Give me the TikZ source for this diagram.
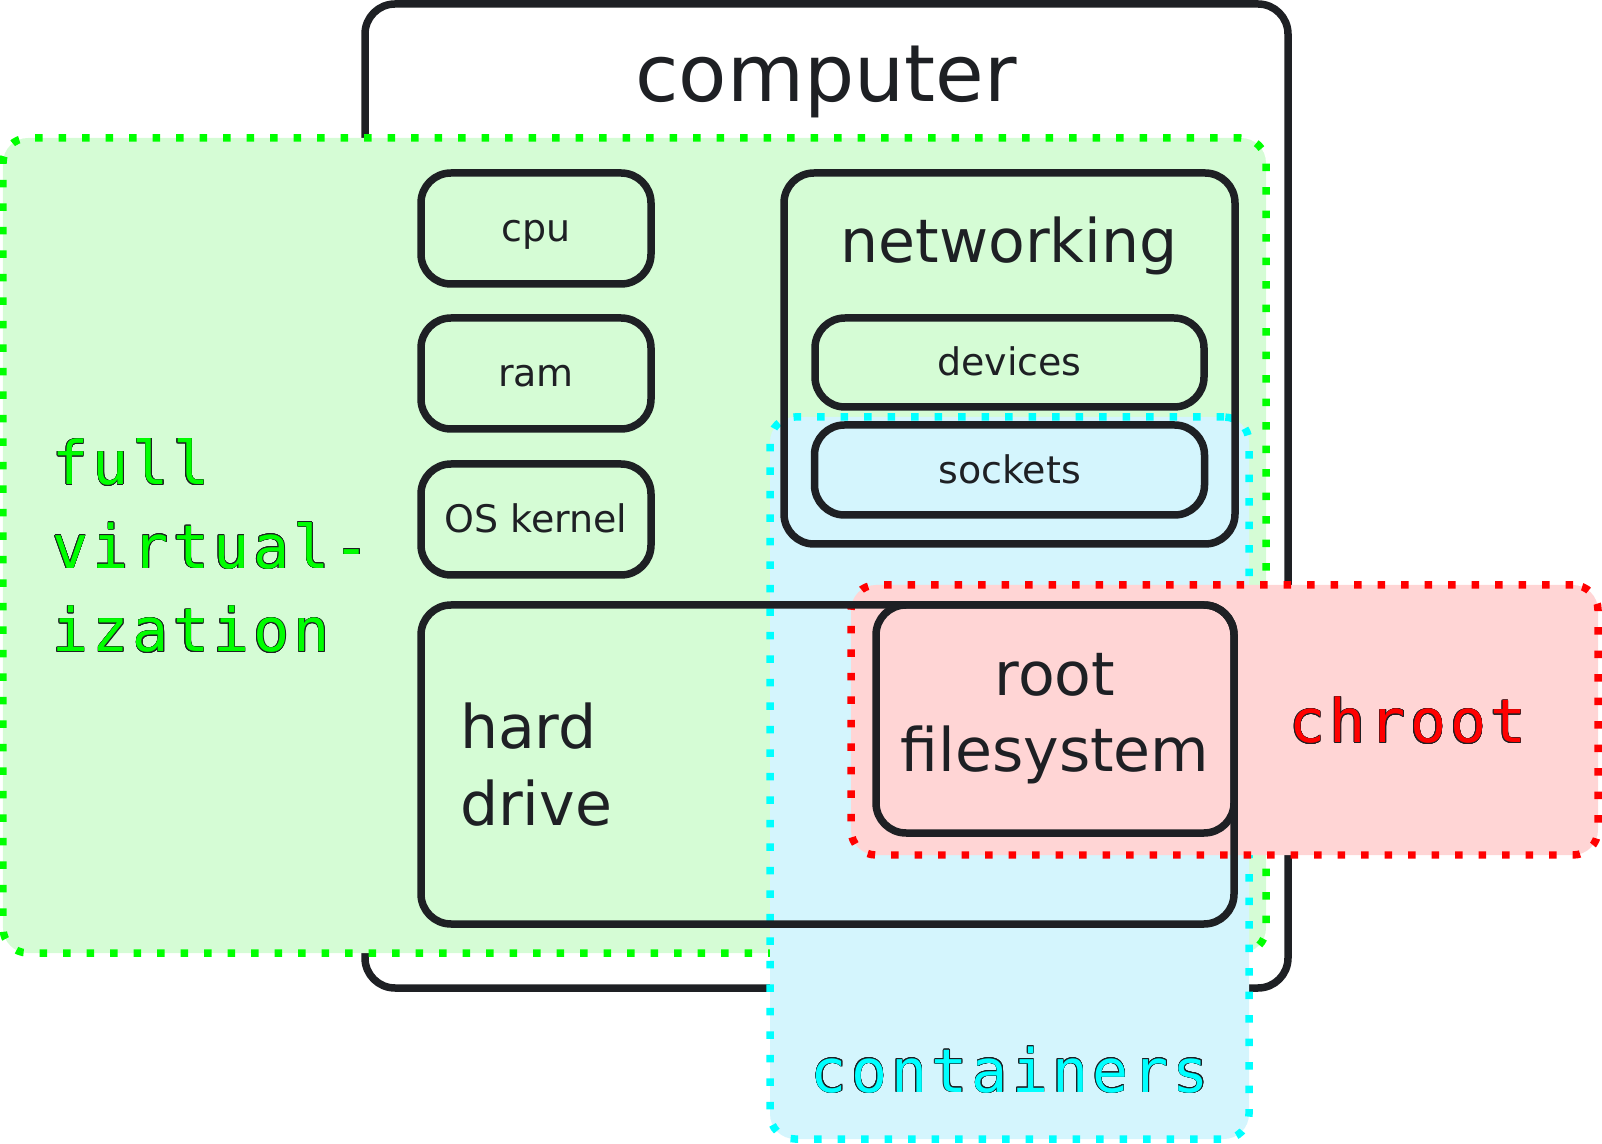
\documentclass[tikz,border=0pt]{standalone}
\usepackage{fontspec}
\setmainfont{DejaVu Sans}
\newfontfamily\monofam[LetterSpace=6.7]{DejaVu Sans Mono}
\usepackage{contour}
\contourlength{0.16pt}
\usetikzlibrary{positioning}
\definecolor{ink}{RGB}{30,32,36}
\definecolor{fvfill}{RGB}{213,252,213}
\definecolor{ctfill}{RGB}{212,245,253}
\definecolor{chfill}{RGB}{255,213,213}
\definecolor{fvline}{RGB}{0,255,0}
\definecolor{ctline}{RGB}{0,255,255}
\definecolor{chline}{RGB}{255,0,0}
\begin{document}
\begin{tikzpicture}[y=-1cm,line join=round,
	box/.style={draw=ink,line width=0.075cm,rounded corners=0.3cm,inner sep=0pt,outer sep=0pt},
	zone/.style={line width=0.075cm,dash pattern=on 0.075cm off 0.16cm,rounded corners=0.25cm,inner sep=0pt,outer sep=0pt},
	small/.style={font=\fontsize{10.8}{13}\selectfont,text=ink,text height=0.95em,text depth=0.2em},
	mid/.style={font=\fontsize{17.1}{21.7}\selectfont,text=ink},
	tag/.style={font=\monofam\fontsize{17.1}{23.8}\selectfont}]
	\useasboundingbox (0,0) rectangle (16.02,11.44);
	% the machine
	\node[box,minimum width=9.23cm,minimum height=9.84cm] (computer) at (8.265,4.96) {};
	\node[font=\fontsize{22.5}{27}\selectfont,text=ink,anchor=base] (comptitle) at (8.26,1.02) {computer};
	% isolation levels
	\node[zone,draw=fvline,fill=fvfill,minimum width=12.63cm,minimum height=8.15cm] (fullvirt) at (6.345,5.455) {};
	\node[zone,draw=ctline,fill=ctfill,minimum width=4.79cm,minimum height=7.22cm] (containers) at (10.095,7.78) {};
	\node[zone,draw=chline,fill=chfill,minimum width=7.47cm,minimum height=2.70cm] (chroot) at (12.245,7.20) {};
	% parts
	\node[box,small,minimum width=2.30cm,minimum height=1.11cm] (cpu) at (5.36,2.285) {cpu};
	\node[box,small,minimum width=2.30cm,minimum height=1.11cm,below=0.34cm of cpu] (ram) {ram};
	\node[box,small,minimum width=2.30cm,minimum height=1.11cm,below=0.35cm of ram] (kernel) {OS kernel};
	\node[box,minimum width=4.51cm,minimum height=3.71cm] (net) at (10.095,3.585) {};
	\node[mid,anchor=base] (nettitle) at (10.09,2.63) {networking};
	\node[box,small,minimum width=3.89cm,minimum height=0.89cm] (devices) at (10.095,3.625) {devices};
	\node[box,small,minimum width=3.90cm,minimum height=0.90cm,below=0.18cm of devices] (sockets) {sockets};
	\node[box,mid,minimum width=8.13cm,minimum height=3.19cm,text width=7.35cm,inner xsep=0.39cm,align=left] (hdd) at (8.275,7.645) {hard\\drive};
	\node[box,mid,minimum width=3.58cm,minimum height=2.28cm,align=center,anchor=north east] (rootfs) at (hdd.north east) {root\\filesystem};
	% level names
	\node[tag,text=fvline,anchor=base west,align=left] (fvname) at (0.40,6.52) {\contour{ink}{full}\\\contour{ink}{virtual-}\\\contour{ink}{ization}};
	\node[tag,text=chline,anchor=base] (chname) at (14.08,7.43) {\contour{ink}{chroot}};
	\node[tag,text=ctline,anchor=base] (ctname) at (10.10,10.92) {\contour{ink}{containers}};
\end{tikzpicture}
\end{document}
